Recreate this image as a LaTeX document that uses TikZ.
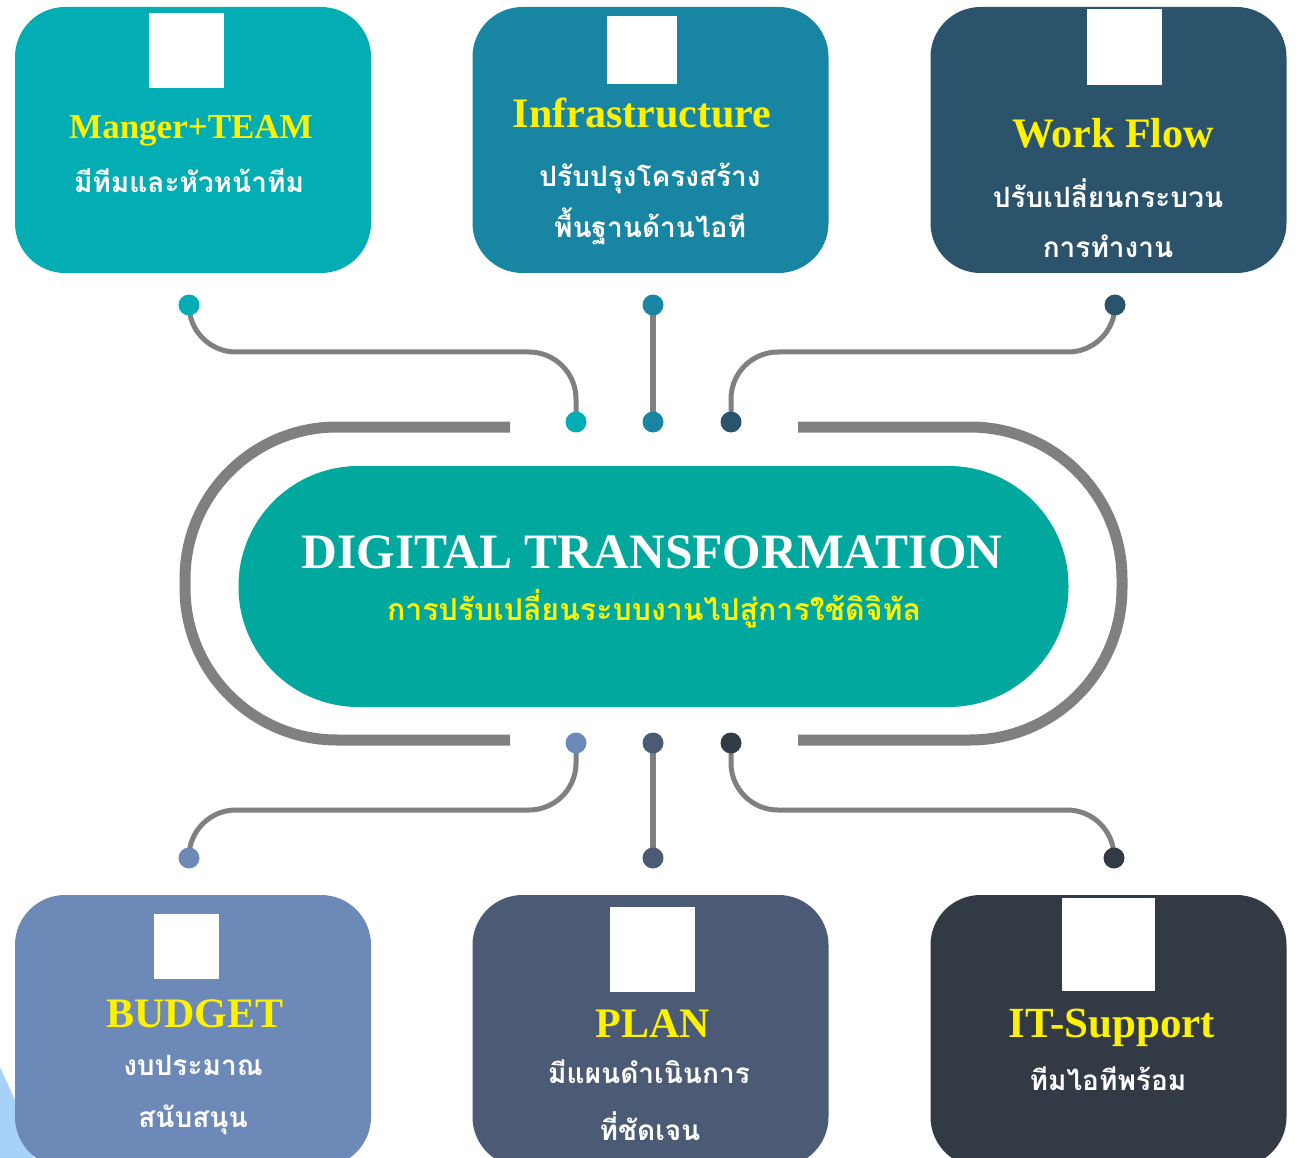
\documentclass[tikz,border=0pt]{standalone}
\usepackage{fontspec}
\setmainfont{Liberation Serif}
\newfontfamily\thaifont[Script=Thai]{Loma}
\usepackage{xcolor}
\definecolor{cMgr}{HTML}{03ADB4}
\definecolor{cInfra}{HTML}{1885A3}
\definecolor{cFlow}{HTML}{2B536B}
\definecolor{cBudget}{HTML}{6D89B7}
\definecolor{cPlan}{HTML}{4B5A75}
\definecolor{cSupport}{HTML}{323A45}
\definecolor{cHub}{HTML}{00A89D}
\definecolor{wiregray}{HTML}{808080}
\definecolor{paleblue}{HTML}{A8D1F7}

\begin{document}
\begin{tikzpicture}[x=1pt, y=-1pt,
  card/.style={rounded corners=50pt, minimum width=356pt, minimum height=266pt, inner sep=0pt},
  icon/.style={fill=white, inner sep=0pt},
  title/.style={text=yellow, font=\bfseries\fontsize{42}{48}\selectfont, inner sep=0pt, anchor=base},
  thai/.style={text=white, font=\thaifont\bfseries\fontsize{28}{32}\selectfont, inner sep=0pt, anchor=base},
  dot/.style={circle, minimum size=21pt, inner sep=0pt},
  wire/.style={draw=wiregray, line width=5pt, rounded corners=47pt},
  frame/.style={draw=wiregray, line width=11pt, rounded corners=152pt}]
  \useasboundingbox (0,0) rectangle (1302,1158);
  \fill[paleblue] (0,1067) -- (33,1140) -- (33,1158) -- (0,1158) -- cycle;

  % cards
  \node[card, fill=cMgr] (mgr) at (193,140) {};
  \node[card, fill=cInfra] (infra) at (650.5,140) {};
  \node[card, fill=cFlow] (flow) at (1108.5,140) {};
  \node[card, minimum height=272pt, fill=cBudget] (budget) at (193,1031) {};
  \node[card, minimum height=272pt, fill=cPlan] (plan) at (650.5,1031) {};
  \node[card, minimum height=272pt, fill=cSupport] (support) at (1108.5,1031) {};

  % icon places
  \node[icon, minimum size=75pt] (iMgr) at (186.5,50.5) {};
  \node[icon, minimum width=70pt, minimum height=68pt] (iInfra) at (642,50) {};
  \node[icon, minimum width=75pt, minimum height=76pt] (iFlow) at (1124.5,47) {};
  \node[icon, minimum size=65pt] (iBudget) at (186.5,946.5) {};
  \node[icon, minimum size=85pt] (iPlan) at (652,949.5) {};
  \node[icon, minimum size=93pt] (iSupport) at (1108,944.5) {};

  % texts
  \node[title, font=\bfseries\fontsize{35}{40}\selectfont] (tMgr) at (191,139) {Manger+TEAM};
  \node[thai] (sMgr) at (189,193) {มีทีมและหัวหน้าทีม};
  \node[title] (tInfra) at (642,128) {Infrastructure};
  \node[thai] (sInfra) at (650,187) {ปรับปรุงโครงสร้าง};
  \node[thai] (sInfra2) at (650,238) {พื้นฐานด้านไอที};
  \node[title] (tFlow) at (1113,148) {Work Flow};
  \node[thai] (sFlow) at (1108,208) {ปรับเปลี่ยนกระบวน};
  \node[thai] (sFlow2) at (1108,258) {การทำงาน};
  \node[title] (tBudget) at (195,1027) {BUDGET};
  \node[thai] (sBudget) at (193,1075) {งบประมาณ};
  \node[thai] (sBudget2) at (193,1127) {สนับสนุน};
  \node[title] (tPlan) at (653,1037) {PLAN};
  \node[thai] (sPlan) at (649,1083) {มีแผนดำเนินการ};
  \node[thai] (sPlan2) at (650,1140) {ที่ชัดเจน};
  \node[title, font=\bfseries\fontsize{43}{48}\selectfont] (tSupport) at (1112,1037) {IT-Support};
  \node[thai] (sSupport) at (1108,1090) {ทีมไอทีพร้อม};

  % frame round the hub
  \draw[frame] (510,427) -- (185,427) -- (185,740) -- (510,740);
  \draw[frame] (798,427) -- (1122,427) -- (1122,740) -- (798,740);
  \node[rounded corners=120pt, fill=cHub, minimum width=830pt, minimum height=241pt] (hub) at (653.5,586.5) {};
  \node[text=white, font=\bfseries\fontsize{49.5}{56}\selectfont, inner sep=0pt, anchor=base] (hubT) at (652,568) {DIGITAL TRANSFORMATION};
  \node[thai, text=yellow, font=\thaifont\bfseries\fontsize{30.3}{34}\selectfont] (hubS) at (654,620) {การปรับเปลี่ยนระบบงานไปสู่การใช้ดิจิทัล};

  % wires
  \coordinate (pMgr) at (189,305);
  \coordinate (pInfra) at (653,305);
  \coordinate (pFlow) at (1115,305);
  \coordinate (pBudget) at (189,858);
  \coordinate (pPlan) at (653,858);
  \coordinate (pSupport) at (1114,858);
  \coordinate (qMgr) at (576,422);
  \coordinate (qInfra) at (653,422);
  \coordinate (qFlow) at (731,422);
  \coordinate (qBudget) at (576,743);
  \coordinate (qPlan) at (653,743);
  \coordinate (qSupport) at (731,743);
  \coordinate (kMgr) at (576,352);
  \coordinate (kFlow) at (1115,352);
  \coordinate (kBudget) at (189,810);
  \coordinate (kSupport) at (1114,810);
  \draw[wire] (pMgr) |- (kMgr) -- (qMgr);
  \draw[wire, line width=6pt] (pInfra) -- (qInfra);
  \draw[wire] (qFlow) |- (kFlow) -- (pFlow);
  \draw[wire] (qBudget) |- (kBudget) -- (pBudget);
  \draw[wire, line width=6pt] (qPlan) -- (pPlan);
  \draw[wire] (qSupport) |- (kSupport) -- (pSupport);

  % dots
  \foreach \p/\c in {pMgr/cMgr, qMgr/cMgr, pInfra/cInfra, qInfra/cInfra, pFlow/cFlow, qFlow/cFlow,
    pBudget/cBudget, qBudget/cBudget, pPlan/cPlan, qPlan/cPlan, pSupport/cSupport, qSupport/cSupport}
    \node[dot, fill=\c] (d\p) at (\p) {};
\end{tikzpicture}
\end{document}
